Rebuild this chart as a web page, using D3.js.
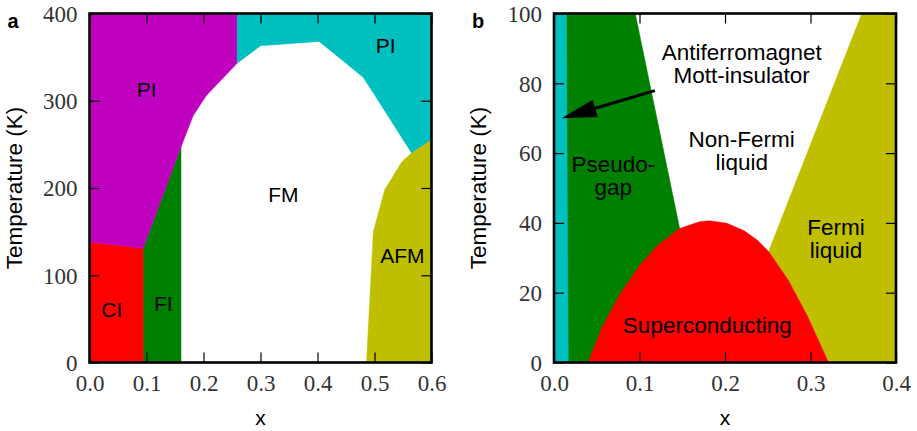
<!DOCTYPE html>
<html>
<head>
<meta charset="utf-8">
<script src="https://cdnjs.cloudflare.com/ajax/libs/d3/7.8.5/d3.min.js"></script>
<style>
  body { margin: 0; background: #fff; }
  svg { display: block; }
</style>
</head>
<body>
<script>
const W = 917, H = 431

// colours (matplotlib single-letter colours)
const cRed = '#ff0000'
const cGreen = '#008000'
const cMagenta = '#bf00bf'
const cCyan = '#00bfbf'
const cYellow = '#bfbf00'

// ---- panel a data: phase regions as [x, T] points
const aTicksX = [0, 0.1, 0.2, 0.3, 0.4, 0.5, 0.6]
const aTicksY = [0, 100, 200, 300, 400]
const regionCI = [[0, 0], [0, 138], [0.094, 131], [0.094, 0]]
const regionFI = [[0.094, 0], [0.094, 131], [0.1605, 247], [0.1605, 0]]
const regionPIlow = [[0, 138], [0, 400], [0.259, 400], [0.259, 343], [0.205, 306],
                     [0.182, 283], [0.1605, 247], [0.094, 131]]
const regionPIhigh = [[0.259, 400], [0.6, 400], [0.6, 255], [0.565, 240], [0.500, 307],
                      [0.480, 327], [0.403, 368], [0.300, 363], [0.259, 343]]
const regionAFM = [[0.486, 0], [0.498, 150], [0.518, 198], [0.548, 230], [0.565, 240],
                   [0.6, 255], [0.6, 0]]
const labelsA = [
  ['PI', 0.1004, 304.6], ['PI', 0.5196, 354.3], ['FM', 0.340, 183.6],
  ['AFM', 0.5488, 113.7], ['CI', 0.039, 52.5], ['FI', 0.1295, 59.4]
]

// ---- panel b data
const bTicksX = [0, 0.1, 0.2, 0.3, 0.4]
const bTicksY = [0, 20, 40, 60, 80, 100]
const scDome = [[0.040, 0], [0.056, 10], [0.077, 19.5], [0.100, 27.8], [0.121, 33.5],
                [0.147, 38.4], [0.170, 40.3], [0.182, 40.6], [0.202, 39.9], [0.222, 37.8],
                [0.238, 35], [0.251, 31.8], [0.274, 23.6], [0.296, 13.5], [0.321, 0]]
const afmStrip = [[0, 0], [0, 100], [0.0143, 100], [0.0167, 0]]
const pseudogap = [[0.0143, 0], [0.0143, 100], [0.095, 100], [0.147, 38.4], [0.16, 30], [0.16, 0]]
const fermiLiquid = [[0.36, 100], [0.4, 100], [0.4, 0], [0.25, 0], [0.251, 31.8]]
const labelsB = [
  ['Antiferromagnet', 0.2195, 86.7], ['Mott-insulator', 0.2195, 80.0],
  ['Non-Fermi', 0.2195, 61.8], ['liquid', 0.2195, 55.2],
  ['Pseudo-', 0.0694, 54.7], ['gap', 0.0694, 48.0],
  ['Fermi', 0.3298, 36.5], ['liquid', 0.3298, 29.9],
  ['Superconducting', 0.1793, 8.4]
]
const arrowFrom = [0.118, 77.9]
const arrowTo = [0.009, 70.0]

const serif = '"Liberation Serif", "Times New Roman", serif'
const sans = '"Liberation Sans", Arial, sans-serif'

const svg = d3.select('body').append('svg')
    .attr('width', W)
    .attr('height', H)

const plotTop = 13.5, plotBottom = 362.5

function panel(left, width, xDomain, yDomain, xTicks, yTicks, letter) {
    const g = svg.append('g')
    const x = d3.scaleLinear().domain(xDomain).range([left, left + width])
    const y = d3.scaleLinear().domain(yDomain).range([plotBottom, plotTop])
    const line = d3.line().x(d => x(d[0])).y(d => y(d[1]))

    const regions = g.append('g')
    const axes = g.append('g')

    // bottom axis with labels
    const ax = axes.append('g')
        .attr('transform', `translate(0,${plotBottom})`)
        .call(d3.axisBottom(x).tickValues(xTicks).tickSize(-10).tickSizeOuter(0)
            .tickFormat(d3.format('.1f')))
    // top ticks
    axes.append('g')
        .attr('transform', `translate(0,${plotTop})`)
        .call(d3.axisTop(x).tickValues(xTicks).tickSize(-10).tickSizeOuter(0).tickFormat(''))
    // left axis with labels
    const ay = axes.append('g')
        .attr('transform', `translate(${left},0)`)
        .call(d3.axisLeft(y).tickValues(yTicks).tickSize(-10).tickSizeOuter(0))
    // right ticks
    axes.append('g')
        .attr('transform', `translate(${left + width},0)`)
        .call(d3.axisRight(y).tickValues(yTicks).tickSize(-10).tickSizeOuter(0).tickFormat(''))

    axes.selectAll('.domain').remove()
    axes.selectAll('.tick line').attr('stroke', '#000').attr('stroke-width', 1.2)
    ax.selectAll('.tick text')
        .attr('y', 28.5).attr('dy', null)
        .attr('fill', '#333')
        .style('font-family', serif)
        .style('font-size', '23px')
    ay.selectAll('.tick text')
        .attr('x', -12).attr('dy', '0.34em')
        .attr('fill', '#333')
        .style('font-family', serif)
        .style('font-size', '23px')

    // spine box
    axes.append('rect')
        .attr('x', left)
        .attr('y', plotTop)
        .attr('width', width)
        .attr('height', plotBottom - plotTop)
        .attr('fill', 'none')
        .attr('stroke', '#000')
        .attr('stroke-width', 2.6)

    // axis titles
    axes.append('text')
        .attr('x', left + width / 2)
        .attr('y', 425)
        .attr('text-anchor', 'middle')
        .style('font-family', sans)
        .style('font-size', '21px')
        .text('x')
    axes.append('text')
        .attr('transform', `translate(${left - 68},${(plotTop + plotBottom) / 2}) rotate(-90)`)
        .attr('text-anchor', 'middle')
        .style('font-family', sans)
        .style('font-size', '22.5px')
        .text('Temperature (K)')
    axes.append('text')
        .attr('x', left - 82)
        .attr('y', 28)
        .style('font-family', sans)
        .style('font-size', '20px')
        .style('font-weight', 'bold')
        .text(letter)

    return { g, regions, x, y, line }
}

function fillRegion(p, pts, color) {
    p.regions.append('path')
        .attr('d', p.line(pts) + 'Z')
        .attr('fill', color)
        .attr('stroke', color)
        .attr('stroke-width', 0.5)
}

function addLabels(p, labels, size) {
    p.regions.selectAll('text.lbl').data(labels, d => d.join()).enter()
        .append('text')
        .attr('class', 'lbl')
        .attr('x', d => p.x(d[1]))
        .attr('y', d => p.y(d[2]))
        .attr('text-anchor', 'middle')
        .style('font-family', sans)
        .style('font-size', size + 'px')
        .text(d => d[0])
}

// ---- panel a
const pa = panel(89.5, 342, [0, 0.6], [0, 400], aTicksX, aTicksY, 'a')
fillRegion(pa, regionFI, cGreen)
fillRegion(pa, regionCI, cRed)
fillRegion(pa, regionPIlow, cMagenta)
fillRegion(pa, regionPIhigh, cCyan)
fillRegion(pa, regionAFM, cYellow)
addLabels(pa, labelsA, 21)

// ---- panel b
const pb = panel(554, 342, [0, 0.4], [0, 100], bTicksX, bTicksY, 'b')
fillRegion(pb, pseudogap, cGreen)
fillRegion(pb, fermiLiquid, cYellow)
fillRegion(pb, scDome, cRed)
fillRegion(pb, afmStrip, cCyan)
addLabels(pb, labelsB, 22.5)

// arrow pointing at the antiferromagnet strip
const x0 = pb.x(arrowFrom[0]), y0 = pb.y(arrowFrom[1])
const x1 = pb.x(arrowTo[0]), y1 = pb.y(arrowTo[1])
const ang = Math.atan2(y1 - y0, x1 - x0)
const headLen = 35, headHalf = 9
const bx = x1 - headLen * Math.cos(ang), by = y1 - headLen * Math.sin(ang)
pb.regions.append('line')
    .attr('x1', x0).attr('y1', y0)
    .attr('x2', bx).attr('y2', by)
    .attr('stroke', '#000')
    .attr('stroke-width', 3)
pb.regions.append('path')
    .attr('d', `M${x1},${y1} L${bx - headHalf * Math.sin(ang)},${by + headHalf * Math.cos(ang)} ` +
               `L${bx + headHalf * Math.sin(ang)},${by - headHalf * Math.cos(ang)} Z`)
    .attr('fill', '#000')
</script>
</body>
</html>
